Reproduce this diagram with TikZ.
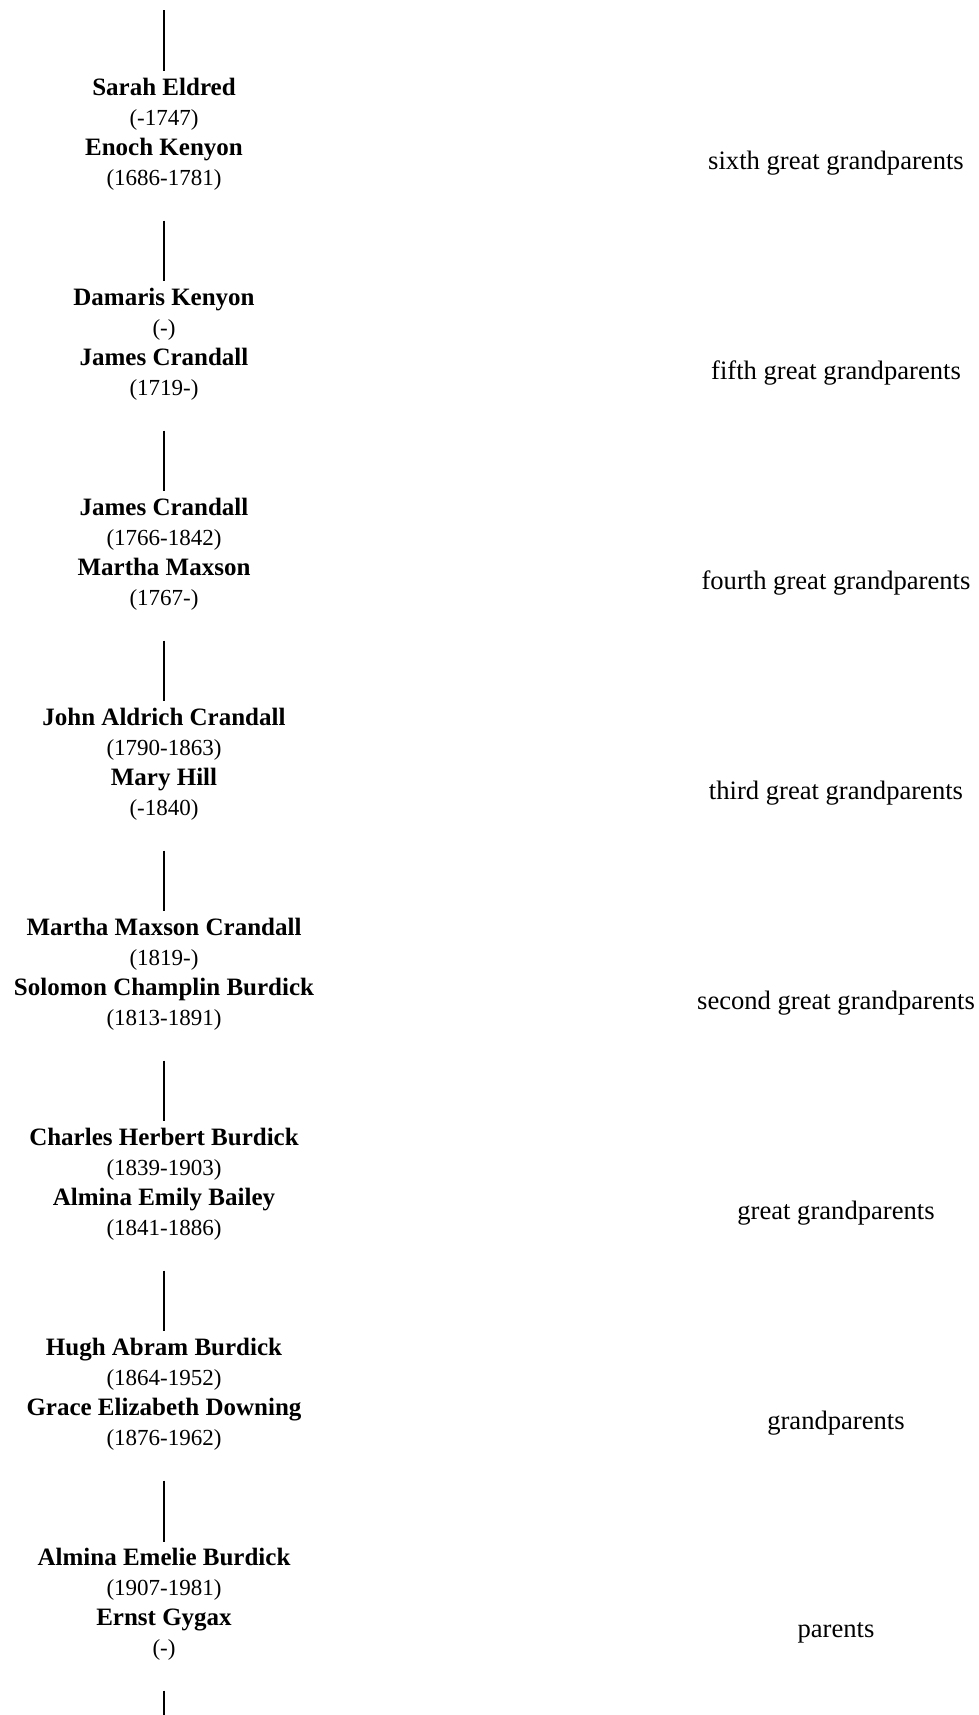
\documentclass[tikz,border=0pt]{standalone}
\usepackage{fontspec}
\setmainfont{Liberation Serif}
\newcommand{\who}[2]{\textbf{#1}\\{\fontsize{11.5}{15}\selectfont #2}}

\begin{document}
\begin{tikzpicture}[x=0.5pt, y=-0.5pt,
  couple/.style={align=center, inner sep=0pt, font=\fontsize{12.5}{15}\selectfont},
  gen/.style={inner sep=0pt, font=\fontsize{13.3}{15}\selectfont},
  link/.style={line width=1pt, shorten <=15pt, shorten >=3pt}]
\useasboundingbox (0,0) rectangle (979,1715);

\node[couple] (se) at (164,134) {\who{Sarah Eldred}{(-1747)}\\\who{Enoch Kenyon}{(1686-1781)}};
\node[couple] (dk) at (164,344) {\who{Damaris Kenyon}{(-)}\\\who{James Crandall}{(1719-)}};
\node[couple] (jc) at (164,554) {\who{James Crandall}{(1766-1842)}\\\who{Martha Maxson}{(1767-)}};
\node[couple] (ja) at (164,764) {\who{John Aldrich Crandall}{(1790-1863)}\\\who{Mary Hill}{(-1840)}};
\node[couple] (mm) at (164,974) {\who{Martha Maxson Crandall}{(1819-)}\\\who{Solomon Champlin Burdick}{(1813-1891)}};
\node[couple] (ch) at (164,1184) {\who{Charles Herbert Burdick}{(1839-1903)}\\\who{Almina Emily Bailey}{(1841-1886)}};
\node[couple] (hb) at (164,1394) {\who{Hugh Abram Burdick}{(1864-1952)}\\\who{Grace Elizabeth Downing}{(1876-1962)}};
\node[couple] (ab) at (164,1604) {\who{Almina Emelie Burdick}{(1907-1981)}\\\who{Ernst Gygax}{(-)}};

\node[gen] (g6) at (836,163) {sixth great grandparents};
\node[gen] (g5) at (836,373) {fifth great grandparents};
\node[gen] (g4) at (836,583) {fourth great grandparents};
\node[gen] (g3) at (836,793) {third great grandparents};
\node[gen] (g2) at (836,1003) {second great grandparents};
\node[gen] (g1) at (836,1213) {great grandparents};
\node[gen] (g0) at (836,1423) {grandparents};
\node[gen] (pa) at (836,1633) {parents};

\coordinate (top) at (164,10);
\coordinate (bot) at (164,1730);

\path[link, shorten <=0pt] (top) edge (se);
\path[link] (se) edge (dk);
\path[link] (dk) edge (jc);
\path[link] (jc) edge (ja);
\path[link] (ja) edge (mm);
\path[link] (mm) edge (ch);
\path[link] (ch) edge (hb);
\path[link] (hb) edge (ab);
\path[link, shorten >=0pt] (ab) edge (bot);

\end{tikzpicture}
\end{document}
